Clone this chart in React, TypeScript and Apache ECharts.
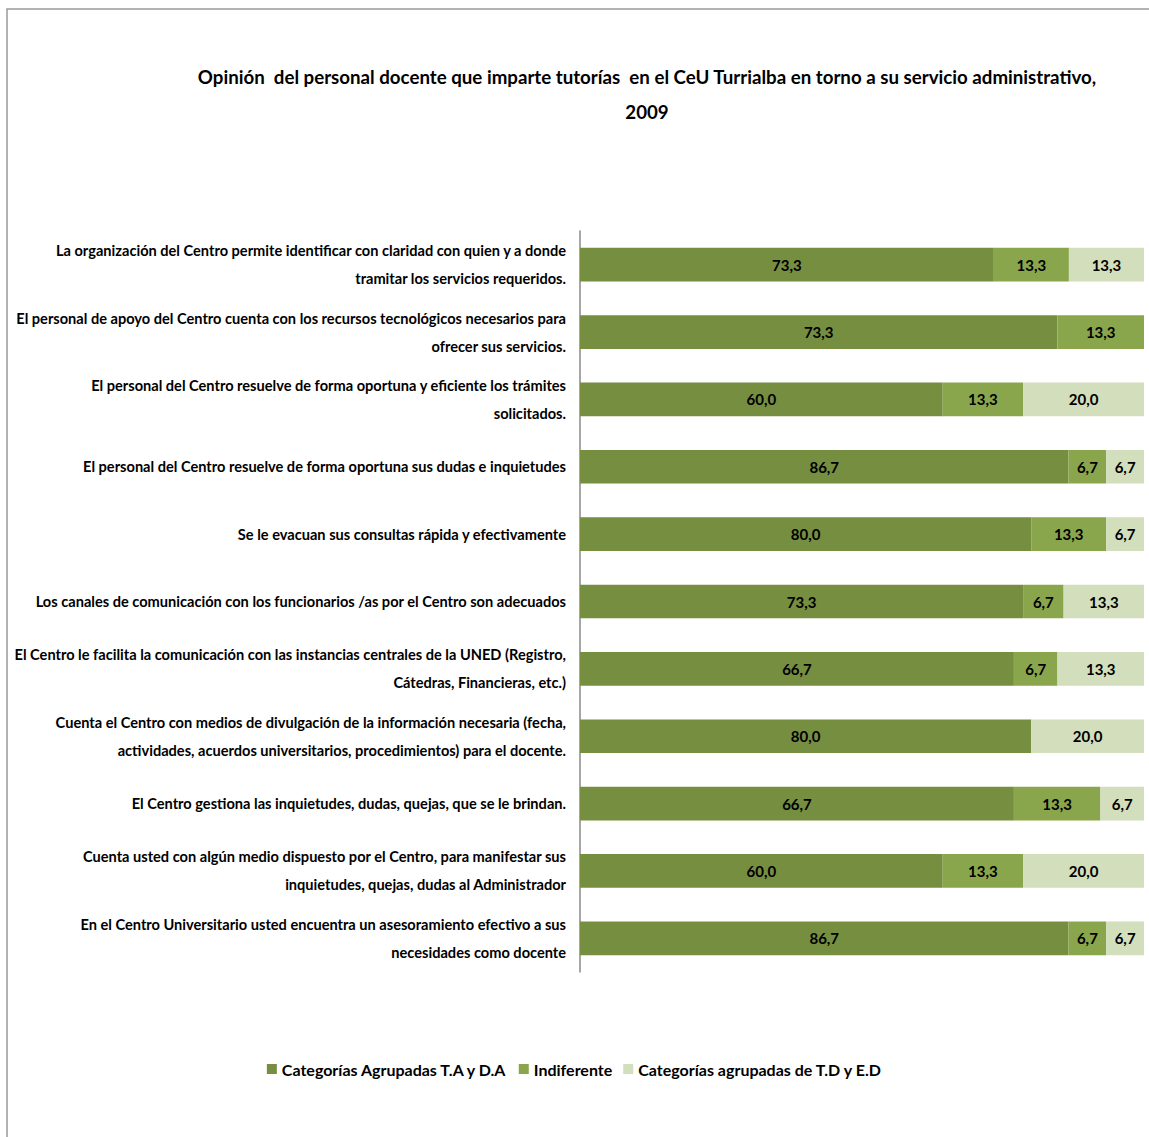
import React, { useEffect, useRef } from "react";
import * as echarts from "echarts";

const categories: string[] = [
  "La organización del Centro permite identificar con claridad con quien y a donde\ntramitar los servicios requeridos.",
  "El personal de apoyo del Centro cuenta con los recursos tecnológicos necesarios para\nofrecer sus servicios.",
  "El personal del Centro resuelve de forma oportuna y eficiente los trámites\nsolicitados.",
  "El personal del Centro resuelve de forma oportuna sus dudas e inquietudes",
  "Se le evacuan sus consultas rápida y efectivamente",
  "Los canales de comunicación con los funcionarios /as por el Centro son adecuados",
  "El Centro le facilita la comunicación con las instancias centrales de la UNED (Registro,\nCátedras, Financieras, etc.)",
  "Cuenta el Centro con medios de divulgación de la información necesaria (fecha,\nactividades, acuerdos universitarios, procedimientos) para el docente.",
  "El Centro gestiona las inquietudes, dudas, quejas, que se le brindan.",
  "Cuenta usted con algún medio dispuesto por el Centro, para manifestar sus\ninquietudes, quejas, dudas al Administrador",
  "En el Centro Universitario usted encuentra un asesoramiento efectivo a sus\nnecesidades como docente",
];

const seriesNames: string[] = [
  "Categorías Agrupadas T.A y D.A",
  "Indiferente",
  "Categorías agrupadas de T.D y E.D",
];

const agrupadasTA: (number | null)[] = [73.3, 73.3, 60.0, 86.7, 80.0, 73.3, 66.7, 80.0, 66.7, 60.0, 86.7];
const indiferente: (number | null)[] = [13.3, 13.3, 13.3, 6.7, 13.3, 6.7, 6.7, null, 13.3, 13.3, 6.7];
const agrupadasTD: (number | null)[] = [13.3, null, 20.0, 6.7, 6.7, 13.3, 13.3, 20.0, 6.7, 20.0, 6.7];

const colors = ["#768E40", "#8AA64D", "#D2DEBC"];

const FONT = "Lato, 'Liberation Sans', sans-serif";

export default function App() {
  const ref = useRef<HTMLDivElement>(null);
  useEffect(() => {
    if (!ref.current) return;
    const chart = echarts.init(ref.current, null, { renderer: "svg" });
    const raw = [agrupadasTA, indiferente, agrupadasTD];
    const totals = categories.map((_, i) =>
      raw.reduce((s, arr) => s + (arr[i] ?? 0), 0)
    );
    const series = raw.map((arr, si) => ({
      name: seriesNames[si],
      type: "bar",
      stack: "total",
      barWidth: "50%",
      itemStyle: { color: colors[si] },
      label: {
        show: true,
        position: "inside",
        color: "#000",
        fontFamily: FONT,
        fontWeight: "bold",
        fontSize: 15,
        formatter: (p: any) => {
          const v = arr[p.dataIndex];
          return v == null ? "" : v.toFixed(1).replace(".", ",");
        },
      },
      data: arr.map((v, i) => (v == null ? null : (v / totals[i]) * 100)),
    }));

    chart.setOption({
      animation: false,
      textStyle: { fontFamily: FONT },
      title: {
        text: "Opinión  del personal docente que imparte tutorías  en el CeU Turrialba en torno a su servicio administrativo,\n2009",
        left: 642,
        top: 54,
        textAlign: "center",
        textStyle: {
          fontFamily: FONT,
          fontWeight: "bold",
          fontSize: 18.7,
          lineHeight: 35,
          color: "#000",
        },
      },
      legend: {
        bottom: 55,
        left: "center",
        icon: "rect",
        itemWidth: 10,
        itemHeight: 10,
        itemGap: 11,
        itemStyle: { borderWidth: 0 },
        textStyle: { fontFamily: FONT, fontWeight: "bold", fontSize: 16, color: "#000" },
        data: seriesNames,
      },
      graphic: [
        {
          type: "rect",
          shape: { x: 7, y: 9, width: 1200, height: 1200 },
          style: { fill: "none", stroke: "#999", lineWidth: 1.5 },
          silent: true,
        },
      ],
      grid: {
        left: 580,
        right: 5,
        top: 231,
        bottom: 1137 - 972,
        containLabel: false,
        outerBoundsMode: "none",
      },
      xAxis: {
        type: "value",
        min: 0,
        max: 100,
        show: false,
      },
      yAxis: {
        type: "category",
        inverse: true,
        data: categories,
        axisLine: { show: true, lineStyle: { color: "#888", width: 1.5 } },
        axisTick: { show: false },
        axisLabel: {
          margin: 14,
          fontFamily: FONT,
          fontWeight: "bold",
          fontSize: 14.6,
          lineHeight: 28,
          color: "#000",
          align: "right",
        },
      },
      series,
    });
    return () => chart.dispose();
  }, []);
  return (
    <div
      ref={ref}
      style={{ position: "absolute", left: 0, top: 0, width: 1149, height: 1137, background: "#fff" }}
    />
  );
}
